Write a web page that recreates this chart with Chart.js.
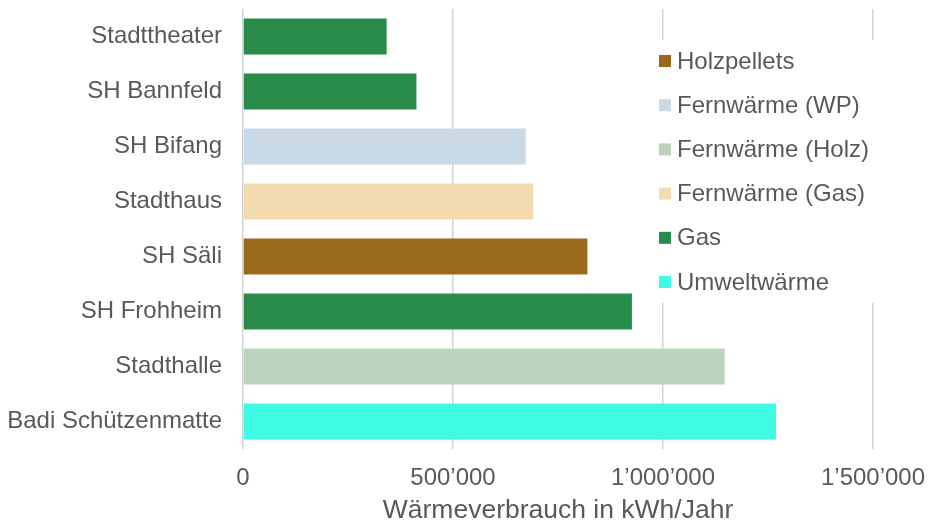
<!DOCTYPE html>
<html>
<head>
<meta charset="utf-8">
<script src="https://cdn.jsdelivr.net/npm/chart.js@4"></script>
<style>
  html, body { margin: 0; padding: 0; background: #fff; }
  #wrap { width: 929px; height: 523px; position: relative; }
</style>
</head>
<body>
<div id="wrap"><canvas id="waerme"></canvas></div>
<script>
// Gebäude von oben nach unten
var categories = ['Stadttheater', 'SH Bannfeld', 'SH Bifang', 'Stadthaus', 'SH Säli', 'SH Frohheim', 'Stadthalle', 'Badi Schützenmatte'];
var values = [342000, 413000, 673000, 691000, 820000, 926000, 1147000, 1269000];
var sources = ['Gas', 'Gas', 'Fernwärme (WP)', 'Fernwärme (Gas)', 'Holzpellets', 'Gas', 'Fernwärme (Holz)', 'Umweltwärme'];
var sourceNames = ['Holzpellets', 'Fernwärme (WP)', 'Fernwärme (Holz)', 'Fernwärme (Gas)', 'Gas', 'Umweltwärme'];
var sourceColors = ['#9a6a1c', '#c9dae6', '#bcd3bb', '#f2dbb0', '#2a8c4a', '#40fbe4'];
var xTicks = [0, 500000, 1000000, 1500000];

var FONT = "'Liberation Sans', Arial, sans-serif";
var GREY = '#595959';

function fmt(v) {
    return String(v).replace(/\B(?=(\d{3})+(?!\d))/g, '\u2019');
}

var datasets = sourceNames.map(function(name, i) {
    return {
        label: name,
        data: values.map(function(v, j) { return sources[j] == name ? v : null; }),
        backgroundColor: sourceColors[i],
        barPercentage: 0.655,
        categoryPercentage: 1
    };
});

// Legende im Diagramm mit weissem Hintergrund
var innerLegend = {
    id: 'innerLegend',
    afterDraw: function(chart) {
        var ctx = chart.ctx;
        ctx.save();
        ctx.fillStyle = '#fff';
        ctx.fillRect(650, 40, 232, 263);
        ctx.font = '24px ' + FONT;
        ctx.textBaseline = 'middle';
        ctx.textAlign = 'left';
        chart.data.datasets.forEach(function(ds, i) {
            var y = 61 + i * 44.2;
            ctx.fillStyle = ds.backgroundColor;
            ctx.fillRect(659, y - 6, 12, 12);
            ctx.fillStyle = GREY;
            ctx.fillText(ds.label, 677, y + 1);
        });
        ctx.restore();
    }
};

var ctx = document.getElementById('waerme');
var myChart = new Chart(ctx, {
    type: 'bar',
    data: { labels: categories, datasets: datasets },
    plugins: [innerLegend],
    options: {
        indexAxis: 'y',
        responsive: true,
        maintainAspectRatio: false,
        animation: false,
        layout: { padding: { top: 9, right: 0, bottom: 0, left: 0 } },
        plugins: { legend: { display: false }, tooltip: { enabled: false } },
        scales: {
            x: {
                stacked: true,
                min: 0,
                max: 1500000,
                afterBuildTicks: function(scale) {
                    scale.ticks = xTicks.map(function(v) { return { value: v }; });
                },
                afterFit: function(scale) {
                    scale.height = 74;
                    scale.paddingRight = 56;
                    scale.paddingLeft = 0;
                },
                grid: { color: '#d4d4d4', lineWidth: 1.5, drawTicks: false },
                border: { display: false },
                ticks: {
                    color: GREY,
                    font: { family: FONT, size: 24, lineHeight: 1.2 },
                    padding: 15,
                    maxRotation: 0,
                    callback: function(v) { return fmt(v); }
                },
                title: {
                    display: true,
                    text: 'Wärmeverbrauch in kWh/Jahr',
                    color: GREY,
                    font: { family: FONT, size: 26.5, lineHeight: 1.2 },
                    padding: { top: 0, bottom: -4 }
                }
            },
            y: {
                stacked: true,
                afterFit: function(scale) {
                    scale.width = 243;
                    scale.paddingTop = 0;
                    scale.paddingBottom = 0;
                },
                grid: { display: false, drawTicks: false },
                border: { display: false },
                ticks: {
                    color: GREY,
                    font: { family: FONT, size: 24 },
                    padding: 21
                }
            }
        }
    }
});
</script>
</body>
</html>
